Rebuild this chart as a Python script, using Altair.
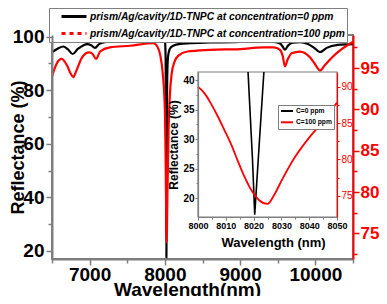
import altair as alt
import pandas as pd

# ---------------- data ----------------
# main panel, concentration = 0 ppm (left axis)
main_wl_0 = [6500, 6580, 6650, 6710, 6775, 6840, 6920, 6965, 7020, 7071, 7130, 7230, 7400, 7600,
             7800, 7900, 7950, 7975, 7990, 8000, 8010, 8016, 8018, 8020.4, 8023.7, 8028, 8036,
             8050, 8080, 8150, 8300, 8600, 9000, 9300, 9450, 9530, 9565, 9596, 9640, 9700, 9800,
             9900, 9980, 10061, 10150, 10300, 10500]
main_r_0 = [94.2, 95.6, 96.3, 95.3, 93.5, 95.3, 96.8, 97.2, 96.8, 95.8, 97.3, 98.1, 98.5, 98.8,
            99.1, 99.4, 99.7, 100.0, 99.7, 99.0, 92.0, 60.0, 41.4, 17.5, 41.4, 75.0, 90.0,
            94.0, 96.0, 97.0, 97.5, 97.8, 98.0, 98.1, 98.0, 97.4, 96.3, 95.1, 96.8, 97.7, 97.9,
            97.2, 95.9, 94.2, 95.8, 96.9, 97.2]

# main panel, concentration = 100 ppm (right axis)
main_wl_100 = [6500, 6560, 6629, 6700, 6750, 6783, 6820, 6900, 6992, 7040, 7085, 7140, 7270,
               7536, 7850, 7900, 7940, 7970, 8000, 8005, 8010, 8015, 8020, 8025, 8030, 8035,
               8045, 8050, 8065, 8090, 8130, 8180, 8300, 8600, 9000, 9300, 9450, 9530, 9565,
               9596, 9630, 9685, 9795, 9928, 10000, 10061, 10130, 10234, 10367, 10500]
main_r_100 = [94.0, 95.5, 96.1, 95.3, 94.3, 93.9, 94.6, 96.3, 96.9, 96.7, 96.1, 97.0, 97.5,
              97.7, 98.0, 97.6, 96.5, 94.5, 90.0, 87.5, 84.0, 79.5, 75.3, 73.9, 77.2, 80.4,
              85.2, 87.8, 91.5, 94.3, 95.8, 96.5, 97.0, 97.2, 97.3, 97.5, 97.5, 97.2, 96.5,
              95.2, 96.0, 96.8, 97.0, 96.3, 95.4, 94.7, 95.4, 96.4, 97.4, 98.2]

# inset, concentration = 0 ppm (inset left axis)
inset_wl_0 = [8018.0, 8019.6, 8020.4, 8022.0, 8023.7]
inset_r_0 = [41.4, 26.6, 17.2, 29.0, 41.4]

# inset, concentration = 100 ppm (inset right axis)
inset_wl_100 = [8000, 8002.5, 8004.6, 8007, 8009.4, 8012, 8014.2, 8017, 8019, 8022, 8025,
                8027.5, 8030.2, 8035, 8040, 8044.5, 8048, 8050]
inset_r_100 = [90.0, 89.0, 87.7, 86.0, 84.1, 82.0, 79.9, 77.4, 75.9, 74.4, 73.9, 75.2, 77.2,
               80.4, 83.0, 85.0, 86.8, 87.8]

main_series = ["prism/Ag/cavity/1D-TNPC at concentration=0 ppm",
               "prism/Ag/cavity/1D-TNPC at concentration=100 ppm"]
inset_series = ["C=0 ppm", "C=100 ppm"]

main_x_ticks = [6500, 7000, 7500, 8000, 8500, 9000, 9500, 10000, 10500]
main_yl_ticks = [20, 30, 40, 50, 60, 70, 80, 90, 100]
main_yr_ticks = [72.5, 75, 77.5, 80, 82.5, 85, 87.5, 90, 92.5, 95, 97.5]
inset_x_ticks = [8000, 8005, 8010, 8015, 8020, 8025, 8030, 8035, 8040, 8045, 8050]
inset_yl_ticks = [20, 22.5, 25, 27.5, 30, 32.5, 35, 37.5, 40]
inset_yr_ticks = [75, 77.5, 80, 82.5, 85, 87.5, 90]

# ---------------- layout / style ----------------
W, H = 301, 224
XM = [6500, 10500]
YL = [17.0, 100.6]
YR = [71.9, 99.0]
XI = [8000, 8050]
YIL = [16.8, 41.4]
YIR = [72.1, 92.0]
XI_RANGE = [146, 285]
YI_RANGE = [182, 37]

GRAY = "#7f7f7f"
RED = "#ff0000"
F = "Liberation Sans, Arial, sans-serif"
FN = "Liberation Sans Narrow, Arial Narrow, Liberation Sans, Arial, sans-serif"


def cond(test, major, minor):
    return {"condition": {"test": test, "value": major}, "value": minor}


ax_main_x = alt.Axis(
    orient="bottom", values=main_x_ticks, zindex=1, grid=False,
    labelExpr="datum.value % 1000 == 0 ? format(datum.value, 'd') : ''",
    tickSize=cond("datum.value % 1000 == 0", 6, 4), tickColor=GRAY, tickWidth=1.5,
    domainColor=GRAY, domainWidth=2, labelFont=F, labelFontSize=19, labelFontWeight="bold",
    labelColor="black", labelPadding=0, labelFlush=False, labelOverlap=False,
    title="Wavelength(nm)", titleFont=F, titleFontSize=19, titleFontWeight="bold",
    titleColor="black", titleX=135, titleY=30, titleBaseline="middle", titleAlign="center",
)
ax_main_yl = alt.Axis(
    orient="left", values=main_yl_ticks, zindex=1, grid=False,
    labelExpr="datum.value % 20 == 0 ? '' + datum.value : ''",
    tickSize=cond("datum.value % 20 == 0", 6, 4), tickColor=GRAY, tickWidth=1.5,
    domainColor=GRAY, domainWidth=2, labelFont=F, labelFontSize=19, labelFontWeight="bold",
    labelColor="black", labelPadding=2, labelOverlap=False, labelFlush=False,
    title="Reflectance (%)", titleFont=F, titleFontSize=18, titleFontWeight="bold",
    titleColor="black", titleX=-34, titleY=H / 2, titleBaseline="middle", titleAlign="center",
    titleAngle=270,
)
ax_main_yr = alt.Axis(
    orient="right", values=main_yr_ticks, zindex=1, grid=False,
    labelExpr="datum.value % 5 == 0 ? '' + datum.value : ''",
    tickSize=cond("datum.value % 5 == 0", 6, 4), tickColor=RED, tickWidth=1.5,
    domainColor=RED, domainWidth=2, labelFont=F, labelFontSize=17, labelFontWeight="bold",
    labelColor=RED, labelPadding=1, labelOverlap=False, labelFlush=False, title=None,
)
ax_inset_x = alt.Axis(
    orient="bottom", offset=-42, values=inset_x_ticks, zindex=1, grid=False,
    labelExpr="datum.value % 10 == 0 ? format(datum.value, 'd') : ''",
    tickSize=cond("datum.value % 10 == 0", 3, 2), tickColor=GRAY, tickWidth=1,
    domainColor=GRAY, domainWidth=1.2, labelFont=FN, labelFontSize=9, labelFontWeight="bold",
    labelColor="black", labelPadding=1, labelFlush=False, labelOverlap=False,
    title="Wavelength (nm)", titleFont=F, titleFontSize=13, titleFontWeight="bold",
    titleColor="black", titleX=221, titleY=25, titleBaseline="middle", titleAlign="center",
)
ax_inset_yl = alt.Axis(
    orient="left", offset=-146, values=inset_yl_ticks, zindex=1, grid=False,
    labelExpr="datum.value % 5 == 0 ? '' + datum.value : ''",
    tickSize=cond("datum.value % 5 == 0", 3, 2), tickColor=GRAY, tickWidth=1,
    domainColor=GRAY, domainWidth=1.2, labelFont=FN, labelFontSize=10, labelFontWeight="bold",
    labelColor="black", labelPadding=1, labelFlush=False, labelOverlap=False,
    title="Reflectance (%)", titleFont=F, titleFontSize=12, titleFontWeight="bold",
    titleColor="black", titlePadding=2,
)
ax_inset_yr = alt.Axis(
    orient="right", offset=-16, values=inset_yr_ticks, zindex=1, grid=False,
    labelExpr="datum.value % 5 == 0 ? '' + datum.value : ''",
    tickSize=cond("datum.value % 5 == 0", 3, 2), tickColor=RED, tickWidth=1,
    domainColor=RED, domainWidth=1.2, labelFont=FN, labelFontSize=10, labelFontWeight="normal",
    labelColor=RED, labelPadding=1, labelFlush=False, labelOverlap=False, title=None,
)

df_m0 = pd.DataFrame({"wl": main_wl_0, "r": main_r_0})
df_m100 = pd.DataFrame({"wl": main_wl_100, "r": main_r_100})
df_i0 = pd.DataFrame({"wl": inset_wl_0, "r": inset_r_0})
df_i100 = pd.DataFrame({"wl": inset_wl_100, "r": inset_r_100})


def sc(domain, rng=None):
    if rng is None:
        return alt.Scale(domain=domain, nice=False, zero=False)
    return alt.Scale(domain=domain, range=rng, nice=False, zero=False)


main_black = alt.Chart(df_m0).mark_line(
    color="black", strokeWidth=2.2, interpolate="monotone", clip=True
).encode(
    x=alt.X("wl:Q", scale=sc(XM), axis=ax_main_x),
    y=alt.Y("r:Q", scale=sc(YL), axis=ax_main_yl),
)

main_red = alt.Chart(df_m100).mark_line(
    color=RED, strokeWidth=2.2, interpolate="monotone", clip=True
).encode(
    x=alt.X("wl:Q", scale=sc(XM), axis=None),
    y=alt.Y("r:Q", scale=sc(YR), axis=ax_main_yr),
)

leg_main_props = dict(
    title=None, orient="none", legendX=-3, legendY=-27, fillColor="white",
    strokeColor=GRAY, padding=2, rowPadding=4, symbolType="M-2.5,0H2.5", symbolSize=100,
    symbolOffset=16.5, symbolStrokeWidth=3, labelFont=F, labelFontSize=10.3,
    labelFontWeight="bold", labelFontStyle="italic", labelColor="black", labelOffset=9.5,
    labelLimit=400,
)
leg_main_df = pd.DataFrame({"series": main_series, "wl": [XM[0]] * 2, "r": [YL[0]] * 2})
main_legend = alt.Chart(leg_main_df).transform_filter("false").mark_line().encode(
    x=alt.X("wl:Q", scale=sc(XM), axis=None),
    y=alt.Y("r:Q", scale=sc(YL), axis=None),
    color=alt.Color("series:N", scale=alt.Scale(domain=main_series, range=["black", RED]),
                    legend=alt.Legend(**leg_main_props)),
    strokeDash=alt.StrokeDash("series:N",
                              scale=alt.Scale(domain=main_series, range=[[1, 0], [4, 4]]),
                              legend=alt.Legend(**leg_main_props)),
)

box_df = pd.DataFrame({"x0": [XI[0]], "x1": [XI[1]], "y0": [YIL[0]], "y1": [YIL[1]]})
inset_box = alt.Chart(box_df).mark_rect(fill="white", stroke=GRAY, strokeWidth=1.2).encode(
    x=alt.X("x0:Q", scale=sc(XI, XI_RANGE), axis=None),
    x2="x1:Q",
    y=alt.Y("y0:Q", scale=sc(YIL, YI_RANGE), axis=None),
    y2="y1:Q",
)

inset_black = alt.Chart(df_i0).mark_line(color="black", strokeWidth=1.6).encode(
    x=alt.X("wl:Q", scale=sc(XI, XI_RANGE), axis=ax_inset_x),
    y=alt.Y("r:Q", scale=sc(YIL, YI_RANGE), axis=ax_inset_yl),
)

inset_red = alt.Chart(df_i100).mark_line(color=RED, strokeWidth=1.8, interpolate="monotone").encode(
    x=alt.X("wl:Q", scale=sc(XI, XI_RANGE), axis=None),
    y=alt.Y("r:Q", scale=sc(YIR, YI_RANGE), axis=ax_inset_yr),
)

leg_inset_df = pd.DataFrame({"cs": inset_series, "wl": [XI[0]] * 2, "r": [YIL[0]] * 2})
inset_legend = alt.Chart(leg_inset_df).transform_filter("false").mark_line().encode(
    x=alt.X("wl:Q", scale=sc(XI, XI_RANGE), axis=None),
    y=alt.Y("r:Q", scale=sc(YIL, YI_RANGE), axis=None),
    color=alt.Color("cs:N", scale=alt.Scale(domain=inset_series, range=["black", RED]),
                    legend=alt.Legend(title=None, orient="none", legendX=226, legendY=70,
                                      fillColor="white", strokeColor=GRAY, padding=2,
                                      rowPadding=3.3, symbolType="M-2,0H2", symbolSize=36,
                                      symbolOffset=3, symbolStrokeWidth=2, labelFont=F,
                                      labelFontSize=6.7, labelFontWeight="bold",
                                      labelColor="black", labelOffset=5)),
)

chart = alt.layer(
    main_black, main_red, main_legend, inset_box, inset_black, inset_red, inset_legend
).resolve_scale(
    x="independent", y="independent", color="independent", strokeDash="independent"
).properties(
    width=W, height=H,
    autosize=alt.AutoSizeParams(type="none"),
    padding={"left": 44, "top": 27, "right": 26, "bottom": 37},
).configure_view(stroke=GRAY, strokeWidth=2)

chart.save("out.html", embed_options={"renderer": "svg", "actions": False})
